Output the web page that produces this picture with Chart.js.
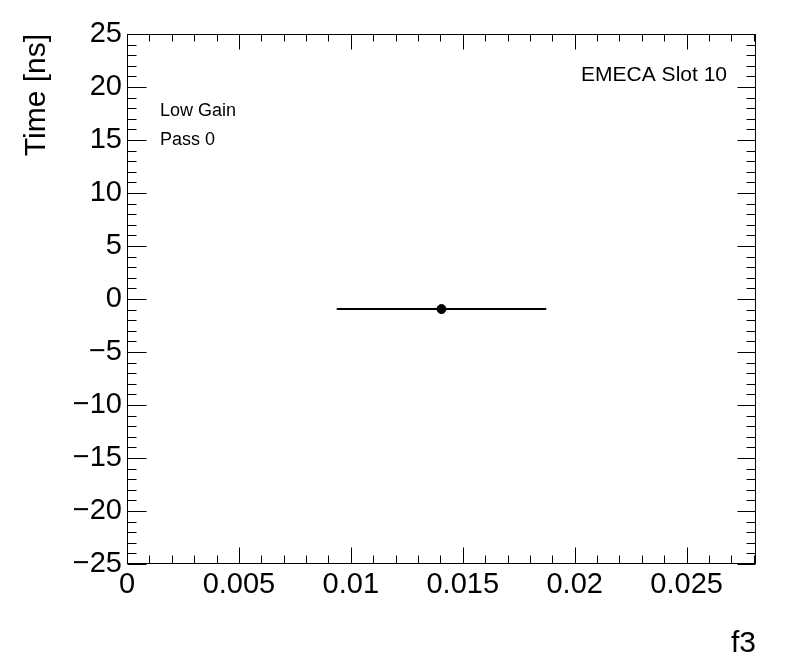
<!DOCTYPE html>
<html>
<head>
<meta charset="utf-8">
<script src="https://cdn.jsdelivr.net/npm/chart.js@4/dist/chart.umd.min.js"></script>
<style>
    html, body { margin: 0; padding: 0; background: #fff; }
    canvas { display: block; }
</style>
</head>
<body>
<canvas id="timeChart" width="796" height="672"></canvas>
<script>
// ======================== 数据 ========================
const pointX = [0.01405];
const pointY = [-0.95];
const pointXErr = [0.00468];

const xTickValues = [0, 0.005, 0.01, 0.015, 0.02, 0.025];
const xTickLabels = ['0', '0.005', '0.01', '0.015', '0.02', '0.025'];
const yTickValues = [-25, -20, -15, -10, -5, 0, 5, 10, 15, 20, 25];
const yTickLabels = ['\u221225', '\u221220', '\u221215', '\u221210', '\u22125', '0', '5', '10', '15', '20', '25'];

const xRange = [0, 0.0281];
const yRange = [-25, 25];
const xMinorStep = 0.001;
const yMinorStep = 1;

const titleX = 'f3';
const titleY = 'Time [ns]';
const labelTopRight = 'EMECA Slot 10';
const labelsTopLeft = ['Low Gain', 'Pass 0'];

const FONT = 'Liberation Sans, Arial, Helvetica, sans-serif';

// 误差棒数据（由上面的数组生成）
const errorBarData = [];
pointX.forEach((x, i) => {
    errorBarData.push({ x: x - pointXErr[i], y: pointY[i] });
    errorBarData.push({ x: x + pointXErr[i], y: pointY[i] });
});

// ROOT 风格的框架与向内刻度
const rootFramePlugin = {
    id: 'rootFrame',
    afterDraw(chart) {
        const ctx = chart.ctx;
        const area = chart.chartArea;
        const xs = chart.scales.x;
        const ys = chart.scales.y;
        const L = Math.round(area.left) + 0.5;
        const R = Math.round(area.right) - 0.5;
        const T = Math.round(area.top) + 0.5;
        const B = Math.round(area.bottom) - 0.5;

        ctx.save();
        ctx.strokeStyle = '#000';
        ctx.lineWidth = 1;
        ctx.strokeRect(L, T, R - L, B - T);

        ctx.beginPath();
        // x 方向刻度
        const nx = Math.round((xs.max - xs.min) / xMinorStep);
        for (let i = 0; i <= nx; i++) {
            const v = xs.min + i * xMinorStep;
            const major = i % 5 === 0;
            const px = Math.round(xs.getPixelForValue(v)) + 0.5;
            ctx.moveTo(px, B);
            ctx.lineTo(px, B - (major ? 16 : 8));
            ctx.moveTo(px, T);
            ctx.lineTo(px, T + (major ? 15 : 7));
        }
        // y 方向刻度
        const ny = Math.round((ys.max - ys.min) / yMinorStep);
        for (let i = 0; i <= ny; i++) {
            const v = ys.min + i * yMinorStep;
            const major = i % 5 === 0;
            const py = Math.round(ys.getPixelForValue(v)) + 0.5;
            ctx.moveTo(L, py);
            ctx.lineTo(L + (major ? 19 : 9), py);
            ctx.moveTo(R, py);
            ctx.lineTo(R - (major ? 18 : 9), py);
        }
        ctx.stroke();

        // 文字标注
        ctx.fillStyle = '#000';
        ctx.textBaseline = 'alphabetic';
        ctx.font = '21px ' + FONT;
        ctx.textAlign = 'right';
        ctx.fillText(labelTopRight, 727, 81);
        ctx.font = '18px ' + FONT;
        ctx.textAlign = 'left';
        ctx.fillText(labelsTopLeft[0], 160, 116);
        ctx.fillText(labelsTopLeft[1], 160, 145);
        ctx.restore();
    }
};

const chart = new Chart(document.getElementById('timeChart').getContext('2d'), {
    type: 'scatter',
    data: {
        datasets: [
            {
                type: 'line',
                data: errorBarData,
                borderColor: '#000',
                borderWidth: 2,
                pointRadius: 0,
                fill: false
            },
            {
                type: 'scatter',
                data: pointX.map((x, i) => ({ x: x, y: pointY[i] })),
                backgroundColor: '#000',
                borderColor: '#000',
                pointRadius: 4.5,
                pointHoverRadius: 4.5
            }
        ]
    },
    options: {
        responsive: false,
        animation: false,
        layout: { padding: { left: 0, top: 34, right: 40, bottom: 0 } },
        plugins: {
            legend: { display: false },
            tooltip: { enabled: false }
        },
        scales: {
            x: {
                type: 'linear',
                min: xRange[0],
                max: xRange[1],
                afterBuildTicks: (scale) => {
                    scale.ticks = xTickValues.map(v => ({ value: v }));
                },
                afterFit: (scale) => { scale.height = 108; },
                grid: { display: false, drawTicks: false },
                border: { display: false },
                ticks: {
                    color: '#000',
                    font: { family: FONT, size: 29 },
                    padding: 4,
                    maxRotation: 0,
                    autoSkip: false,
                    callback: (value, index) => xTickLabels[index]
                },
                title: {
                    display: true,
                    text: titleX,
                    align: 'end',
                    color: '#000',
                    font: { family: FONT, size: 30 },
                    padding: { top: 0, bottom: 10 }
                }
            },
            y: {
                type: 'linear',
                min: yRange[0],
                max: yRange[1],
                afterBuildTicks: (scale) => {
                    scale.ticks = yTickValues.map(v => ({ value: v }));
                },
                afterFit: (scale) => { scale.width = 127; },
                grid: { display: false, drawTicks: false },
                border: { display: false },
                ticks: {
                    color: '#000',
                    font: { family: FONT, size: 29 },
                    padding: 5,
                    autoSkip: false,
                    callback: (value, index) => yTickLabels[index]
                },
                title: {
                    display: true,
                    text: titleY,
                    align: 'end',
                    color: '#000',
                    font: { family: FONT, size: 30 },
                    padding: { top: 19, bottom: 0 }
                }
            }
        }
    },
    plugins: [rootFramePlugin]
});
</script>
</body>
</html>
